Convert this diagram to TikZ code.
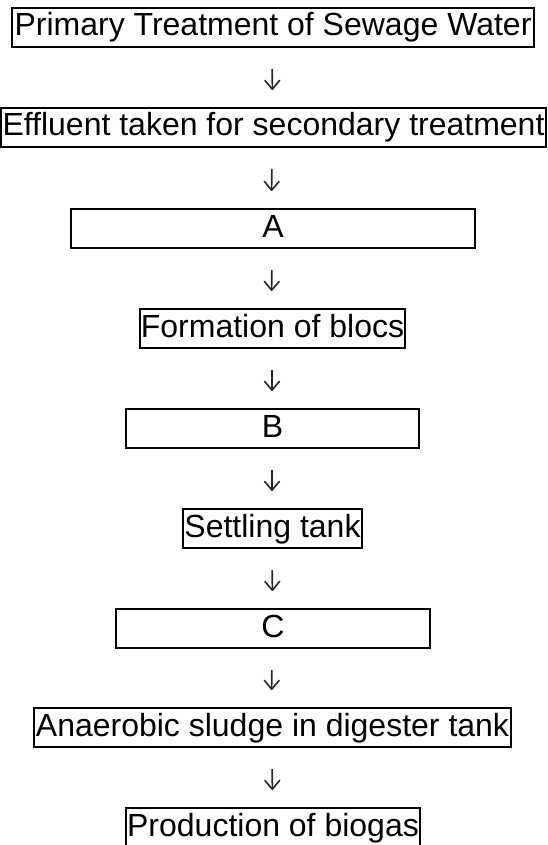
\documentclass[tikz,border=0pt]{standalone}
\usepackage{fontspec}
\setmainfont{Liberation Sans}
\usetikzlibrary{arrows.meta}
\begin{document}
\begin{tikzpicture}[x=1pt,y=-1pt,
  box/.style={draw=black,line width=2pt,inner sep=0pt,minimum height=39pt,
    text height=23.5pt,text depth=6.5pt,font=\fontsize{32}{38}\selectfont,anchor=north},
  arr/.style={line width=1.6pt,draw=black!85,-{Straight Barb[angle=80:11.5pt,line width=1.6pt,round]},
    shorten <=21pt,shorten >=17pt}]
\useasboundingbox (0,0) rectangle (547,845);
\clip (0,0) rectangle (547,845);
\node[box,minimum width=522pt] (p1) at (273,7) {Primary Treatment of Sewage Water};
\node[box,minimum width=545pt] (p2) at (273.5,107) {Effluent taken for secondary treatment};
\node[box,minimum width=404pt] (pa) at (273,208) {A};
\node[box,minimum width=265pt] (p3) at (272.5,308) {Formation of blocs};
\node[box,minimum width=293pt] (pb) at (272.5,408) {B};
\node[box,minimum width=179pt] (p4) at (272.5,508) {Settling tank};
\node[box,minimum width=314pt] (pc) at (273,608) {C};
\node[box,minimum width=477pt] (p5) at (272.5,707) {Anaerobic sludge in digester tank};
\node[box,minimum width=294pt] (p6) at (273,807) {Production of biogas};
\draw[arr] ([xshift=-1pt]p1.south) -- ([xshift=-1pt]p2.north);
\draw[arr] ([xshift=-1.5pt]p2.south) -- ([xshift=-1.5pt]pa.north);
\draw[arr] ([xshift=-1pt]pa.south) -- ([xshift=-1pt]p3.north);
\draw[arr] ([xshift=-0.5pt]p3.south) -- ([xshift=-0.5pt]pb.north);
\draw[arr] ([xshift=-0.5pt]pb.south) -- ([xshift=-0.5pt]p4.north);
\draw[arr] ([xshift=-0.5pt]p4.south) -- ([xshift=-0.5pt]pc.north);
\draw[arr] ([xshift=-1pt]pc.south) -- ([xshift=-1pt]p5.north);
\draw[arr] ([xshift=-0.5pt]p5.south) -- ([xshift=-0.5pt]p6.north);
\end{tikzpicture}
\end{document}
